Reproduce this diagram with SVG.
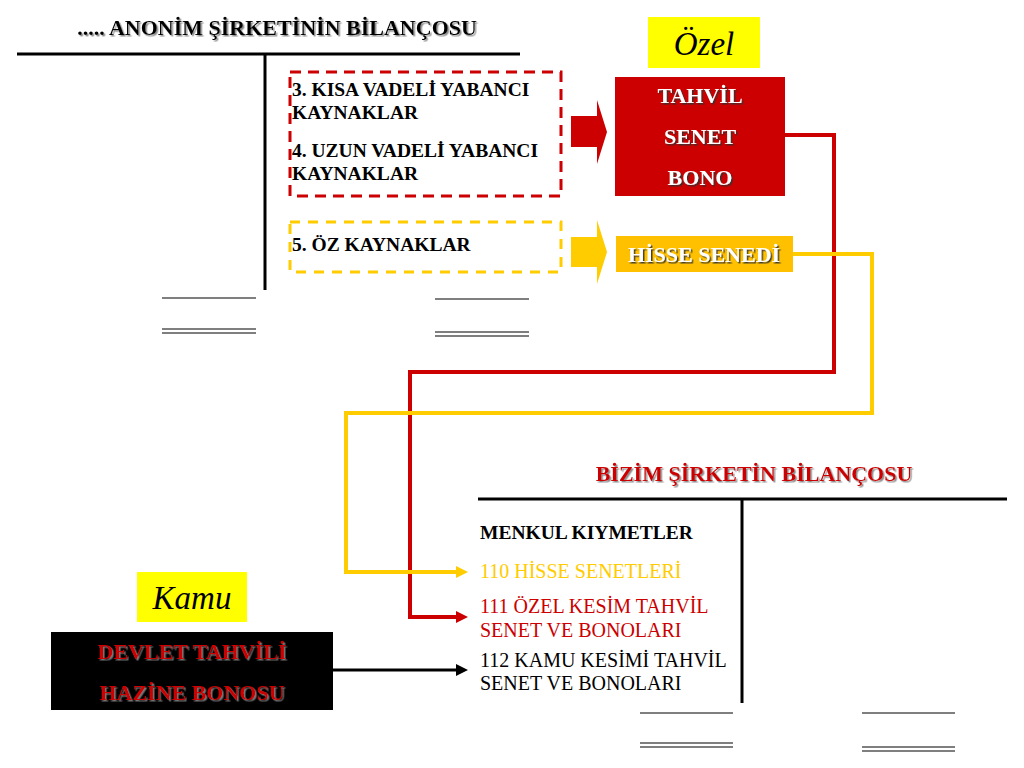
<svg xmlns="http://www.w3.org/2000/svg" width="1024" height="768" viewBox="0 0 1024 768">
<defs>
<filter id="sh" x="-5%" y="-20%" width="110%" height="140%">
<feDropShadow dx="1.5" dy="1.5" stdDeviation="0.4" flood-color="#808080" flood-opacity="0.9"/>
</filter>
<filter id="shd" x="-5%" y="-20%" width="110%" height="140%">
<feDropShadow dx="1.5" dy="1.5" stdDeviation="0.4" flood-color="#333333" flood-opacity="0.9"/>
</filter>
<marker id="ar" markerUnits="userSpaceOnUse" markerWidth="12" markerHeight="12" refX="2" refY="6" orient="auto"><path d="M0,0 L12,6 L0,12 z" fill="#CC0000"/></marker>
<marker id="ay" markerUnits="userSpaceOnUse" markerWidth="12" markerHeight="12" refX="2" refY="6" orient="auto"><path d="M0,0 L12,6 L0,12 z" fill="#FFCC00"/></marker>
<marker id="ak" markerUnits="userSpaceOnUse" markerWidth="12" markerHeight="12" refX="2" refY="6" orient="auto"><path d="M0,0 L12,6 L0,12 z" fill="#000000"/></marker>
</defs>
<style>
text{font-family:"Liberation Serif","Times New Roman",Tinos,"Noto Serif","Nimbus Roman","Nimbus Roman No9 L",FreeSerif,"DejaVu Serif",Georgia,serif}
.b{font-weight:bold}
.rule{stroke:#000;stroke-width:3;fill:none}
.sum{stroke:#555;stroke-width:1.5;fill:none}
.item{font-size:19.5px;font-weight:bold;fill:#000}
.acc{font-size:20px}
.box{font-size:22px;font-weight:bold;fill:#fff;text-anchor:middle}
</style>
<rect width="1024" height="768" fill="#fff"/>

<g id="balance-top">
<text class="b" x="277" y="35" font-size="22" text-anchor="middle" fill="#000" filter="url(#sh)">..... ANONİM ŞİRKETİNİN BİLANÇOSU</text>
<line class="rule" x1="17" y1="54" x2="520" y2="54"/>
<line class="rule" x1="265" y1="54" x2="265" y2="290"/>
<line class="sum" x1="162" y1="298" x2="256" y2="298"/>
<line class="sum" x1="162" y1="329" x2="256" y2="329"/>
<line class="sum" x1="162" y1="333" x2="256" y2="333"/>
<line class="sum" x1="435" y1="299" x2="529" y2="299"/>
<line class="sum" x1="435" y1="332" x2="529" y2="332"/>
<line class="sum" x1="435" y1="336" x2="529" y2="336"/>
</g>

<g id="yabanci-kaynaklar">
<rect x="290" y="72" width="271" height="124" fill="none" stroke="#CC0000" stroke-width="3" stroke-dasharray="11,7"/>
<text class="item" x="292" y="96">3. KISA VADELİ YABANCI</text>
<text class="item" x="292" y="119">KAYNAKLAR</text>
<text class="item" x="292" y="157">4. UZUN VADELİ YABANCI</text>
<text class="item" x="292" y="180">KAYNAKLAR</text>
</g>

<g id="oz-kaynaklar">
<rect x="290" y="222" width="271" height="50" fill="none" stroke="#FFCC00" stroke-width="3" stroke-dasharray="10,8"/>
<text class="item" x="292" y="251">5. ÖZ KAYNAKLAR</text>
</g>

<g id="block-arrow-red">
<path d="M571,116 H597 V100 L607,132 L597,164 V147 H571 z" fill="#CC0000"/>
</g>
<g id="block-arrow-yellow">
<path d="M571,237 H597 V220 L607,252 L597,284 V267 H571 z" fill="#FFCC00"/>
</g>

<g id="ozel">
<rect x="648" y="17" width="112" height="51" fill="#FFFF00"/>
<text x="704" y="55" font-size="33" font-style="italic" text-anchor="middle" fill="#000">Özel</text>
</g>

<g id="tahvil-senet-bono">
<rect x="615" y="77" width="170" height="119" fill="#CC0000"/>
<text class="box" x="700" y="103" filter="url(#shd)">TAHVİL</text>
<text class="box" x="700" y="144" filter="url(#shd)">SENET</text>
<text class="box" x="700" y="185" filter="url(#shd)">BONO</text>
</g>

<g id="hisse-senedi">
<rect x="616" y="236" width="177" height="36" fill="#FFC000"/>
<text class="box" x="704" y="262" filter="url(#shd)">HİSSE SENEDİ</text>
</g>

<g id="kamu">
<rect x="137" y="572" width="110" height="50" fill="#FFFF00"/>
<text x="192" y="609" font-size="33" font-style="italic" text-anchor="middle" fill="#000">Kamu</text>
</g>

<g id="devlet-tahvili">
<rect x="51" y="632" width="282" height="78" fill="#000"/>
<text x="192" y="659" font-size="22" font-weight="bold" text-anchor="middle" fill="#CC0000" filter="url(#sh)">DEVLET TAHVİLİ</text>
<text x="192" y="700" font-size="22" font-weight="bold" text-anchor="middle" fill="#CC0000" filter="url(#sh)">HAZİNE BONOSU</text>
</g>

<g id="balance-bizim">
<text class="b" x="754" y="481" font-size="22" text-anchor="middle" fill="#CC0000" filter="url(#sh)">BİZİM ŞİRKETİN BİLANÇOSU</text>
<line class="rule" x1="478" y1="499" x2="1007" y2="499"/>
<line class="rule" x1="742" y1="499" x2="742" y2="703"/>
<text class="item" x="480" y="539">MENKUL KIYMETLER</text>
<text class="acc" x="480" y="578" fill="#FFCC00">110 HİSSE SENETLERİ</text>
<text class="acc" x="480" y="613" fill="#CC0000">111 ÖZEL KESİM TAHVİL</text>
<text class="acc" x="480" y="637" fill="#CC0000">SENET VE BONOLARI</text>
<text class="acc" x="480" y="667" fill="#000">112 KAMU KESİMİ TAHVİL</text>
<text class="acc" x="480" y="690" fill="#000">SENET VE BONOLARI</text>
<line class="sum" x1="640" y1="713" x2="733" y2="713"/>
<line class="sum" x1="640" y1="743" x2="733" y2="743"/>
<line class="sum" x1="640" y1="747" x2="733" y2="747"/>
<line class="sum" x1="862" y1="713" x2="955" y2="713"/>
<line class="sum" x1="862" y1="747" x2="955" y2="747"/>
<line class="sum" x1="862" y1="751" x2="955" y2="751"/>
</g>

<g id="connectors" fill="none">
<path d="M785,135 H834 V372 H410 V617 H458" stroke="#CC0000" stroke-width="4" marker-end="url(#ar)"/>
<path d="M793,254 H872 V413 H346 V572 H458" stroke="#FFCC00" stroke-width="4" marker-end="url(#ay)"/>
<path d="M333,670 H458" stroke="#000" stroke-width="3" marker-end="url(#ak)"/>
</g>
</svg>
